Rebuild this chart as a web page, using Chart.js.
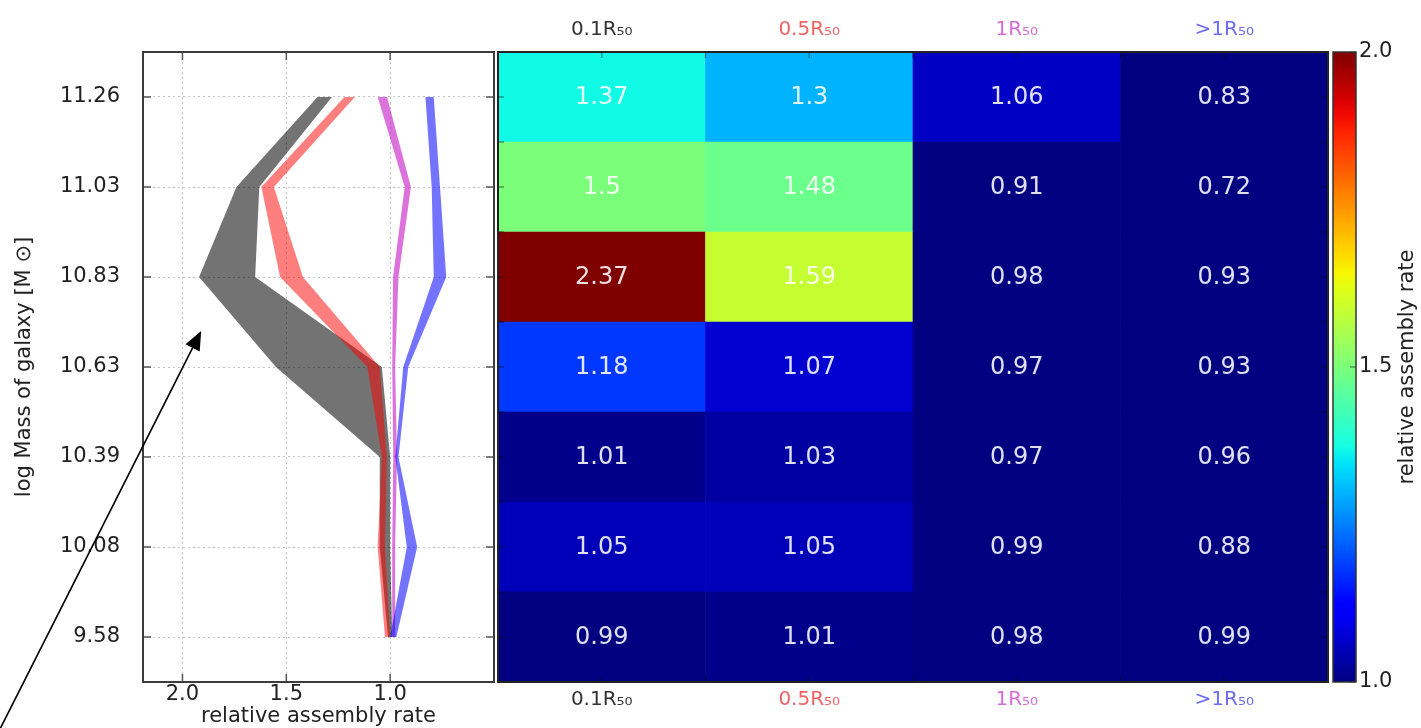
<!DOCTYPE html>
<html>
<head>
<meta charset="utf-8">
<script src="https://cdn.jsdelivr.net/npm/chart.js@4.4.1/dist/chart.umd.min.js"></script>
<style>
  html, body { margin: 0; padding: 0; background: #fff; }
  body { width: 1421px; height: 728px; position: relative; overflow: hidden; }
  .panel { position: absolute; top: 0; height: 728px; }
  #bandsBox { left: 0; width: 497px; }
  #heatBox { left: 494px; width: 838px; }
  #barBox { left: 1328px; width: 93px; }
</style>
</head>
<body>
<div class="panel" id="bandsBox"><canvas id="bands"></canvas></div>
<div class="panel" id="heatBox"><canvas id="heat"></canvas></div>
<div class="panel" id="barBox"><canvas id="cbar"></canvas></div>
<script>
// mass bins, bottom to top
const massLabels = ['9.58', '10.08', '10.39', '10.63', '10.83', '11.03', '11.26'];
const columnLabels = ['0.1R\u2085\u2080', '0.5R\u2085\u2080', '1R\u2085\u2080', '>1R\u2085\u2080'];

// heatmap values per column, bottom to top
const rate01 = [0.99, 1.05, 1.01, 1.18, 2.37, 1.5, 1.37];
const rate05 = [1.01, 1.05, 1.03, 1.07, 1.59, 1.48, 1.3];
const rate1 = [0.98, 0.99, 0.97, 0.97, 0.98, 0.91, 1.06];
const rateGt1 = [0.99, 0.88, 0.96, 0.93, 0.93, 0.72, 0.83];

// band edges for the left panel, bottom to top
const band01Low = [0.99, 1.00, 1.00, 1.04, 1.65, 1.63, 1.28];
const band01High = [1.01, 1.05, 1.05, 1.55, 1.92, 1.74, 1.35];
const band05Low = [1.00, 1.025, 1.016, 1.05, 1.42, 1.56, 1.17];
const band05High = [1.025, 1.06, 1.04, 1.11, 1.53, 1.62, 1.22];
const band1Low = [0.976, 0.976, 0.967, 0.976, 0.96, 0.90, 1.015];
const band1High = [0.99, 0.99, 0.985, 0.99, 0.986, 0.93, 1.06];
const bandGt1Low = [0.97, 0.87, 0.96, 0.913, 0.73, 0.76, 0.79];
const bandGt1High = [1.0, 0.92, 0.975, 0.937, 0.79, 0.80, 0.83];

const rateTicks = [1.0, 1.5, 2.0];
const cbMin = 1.0, cbMax = 2.0;

const FONT = "'DejaVu Sans', sans-serif";
const colColors = ['#333333', '#f06464', '#d46ed6', '#6c6cf0'];

// matplotlib jet
function jet(v) {
  const t = Math.min(1, Math.max(0, (v - cbMin) / (cbMax - cbMin)));
  const seg = pts => {
    for (let i = 1; i < pts.length; i++) {
      if (t <= pts[i][0]) {
        const [x0, y0] = pts[i - 1], [x1, y1] = pts[i];
        return y0 + (y1 - y0) * (t - x0) / (x1 - x0);
      }
    }
    return pts[pts.length - 1][1];
  };
  const r = seg([[0, 0], [0.35, 0], [0.66, 1], [0.89, 1], [1, 0.5]]);
  const g = seg([[0, 0], [0.125, 0], [0.375, 1], [0.64, 1], [0.91, 0], [1, 0]]);
  const b = seg([[0, 0.5], [0.11, 1], [0.34, 1], [0.65, 0], [1, 0]]);
  return `rgb(${Math.round(r * 255)},${Math.round(g * 255)},${Math.round(b * 255)})`;
}

Chart.defaults.font.family = FONT;
Chart.defaults.animation = false;
Chart.defaults.plugins.legend.display = false;
Chart.defaults.plugins.tooltip.enabled = false;

// ---------- left panel: bands ----------
const bands = [
  { low: bandGt1Low, high: bandGt1High, color: 'rgba(0,0,255,0.55)' },
  { low: band1Low, high: band1High, color: 'rgba(191,0,191,0.55)' },
  { low: band05Low, high: band05High, color: 'rgba(255,0,0,0.5)' },
  { low: band01Low, high: band01High, color: 'rgba(0,0,0,0.55)' },
];
const bandSets = [];
bands.forEach(b => {
  bandSets.push({ data: b.low.map((v, i) => ({ x: v, y: i })), borderWidth: 0, pointRadius: 0, fill: false });
  bandSets.push({ data: b.high.map((v, i) => ({ x: v, y: i })), borderWidth: 0, pointRadius: 0,
    fill: '-1', backgroundColor: b.color });
});

const arrowTip = { x: 1.91, y: 3.4 };
const arrowTail = { x: 2.88, y: -1.03 };

const frameAndArrow = {
  id: 'frameAndArrow',
  afterDraw(chart) {
    const { ctx, chartArea: a, scales: { x, y } } = chart;
    ctx.save();
    // inner ticks
    ctx.strokeStyle = '#555';
    ctx.lineWidth = 1.5;
    ctx.beginPath();
    rateTicks.forEach(v => {
      const px = x.getPixelForValue(v);
      ctx.moveTo(px, a.top); ctx.lineTo(px, a.top + 8);
      ctx.moveTo(px, a.bottom); ctx.lineTo(px, a.bottom - 8);
    });
    massLabels.forEach((_, i) => {
      const py = y.getPixelForValue(i);
      ctx.moveTo(a.left, py); ctx.lineTo(a.left + 8, py);
      ctx.moveTo(a.right, py); ctx.lineTo(a.right - 8, py);
    });
    ctx.stroke();
    ctx.strokeStyle = '#3c3c3c';
    ctx.lineWidth = 2;
    ctx.strokeRect(a.left, a.top, a.right - a.left, a.bottom - a.top);
    // arrow
    const tx = x.getPixelForValue(arrowTip.x), ty = y.getPixelForValue(arrowTip.y);
    const sx = x.getPixelForValue(arrowTail.x), sy = y.getPixelForValue(arrowTail.y);
    const ang = Math.atan2(ty - sy, tx - sx);
    const hl = 19, hw = 8;
    const bx = tx - hl * Math.cos(ang), by = ty - hl * Math.sin(ang);
    ctx.strokeStyle = '#000';
    ctx.lineWidth = 1.6;
    ctx.beginPath();
    ctx.moveTo(sx, sy); ctx.lineTo(bx, by);
    ctx.stroke();
    ctx.fillStyle = '#000';
    ctx.beginPath();
    ctx.moveTo(tx, ty);
    ctx.lineTo(bx + hw * Math.sin(ang), by - hw * Math.cos(ang));
    ctx.lineTo(bx - hw * Math.sin(ang), by + hw * Math.cos(ang));
    ctx.closePath();
    ctx.fill();
    ctx.restore();
  }
};

new Chart(document.getElementById('bands'), {
  type: 'line',
  data: { datasets: bandSets },
  options: {
    responsive: true,
    maintainAspectRatio: false,
    indexAxis: 'y',
    layout: { padding: { top: 52, right: 3 } },
    scales: {
      x: {
        type: 'linear', reverse: true, min: 0.5, max: 2.19,
        afterBuildTicks: s => { s.ticks = rateTicks.map(v => ({ value: v })); },
        afterFit: s => { s.height = 46; },
        ticks: { callback: v => v.toFixed(1), color: '#222', font: { size: 21 }, padding: 0, maxRotation: 0 },
        grid: { color: '#c4c4c4', drawTicks: false },
        border: { display: false, dash: [2, 3] },
        title: { display: true, text: 'relative assembly rate', color: '#222', font: { size: 21, lineHeight: 1.1 }, padding: { top: 0, bottom: 0 } }
      },
      y: {
        type: 'linear', min: -0.5, max: 6.5,
        afterBuildTicks: s => { s.ticks = massLabels.map((_, i) => ({ value: i })); },
        afterFit: s => { s.width = 143; },
        ticks: { callback: v => massLabels[v], color: '#222', font: { size: 21 }, padding: 23 },
        grid: { color: '#c4c4c4', drawTicks: false },
        border: { display: false, dash: [2, 3] },
        title: { display: true, text: 'log Mass of galaxy [M \u2299]', color: '#222', font: { size: 21, lineHeight: 1.1 }, padding: { top: 13 } }
      }
    }
  },
  plugins: [frameAndArrow]
});

// ---------- heatmap ----------
const columns = [rate01, rate05, rate1, rateGt1];
const heatSets = massLabels.map((_, row) => ({
  data: columns.map(() => [row - 0.5, row + 0.5]),
  backgroundColor: columns.map(col => jet(col[row])),
  borderWidth: 0,
  grouped: false,
  barPercentage: 1,
  categoryPercentage: 1
}));

const heatDecor = {
  id: 'heatDecor',
  afterDatasetsDraw(chart) {
    const { ctx, chartArea: a, scales: { y } } = chart;
    ctx.save();
    ctx.font = `24px ${FONT}`;
    ctx.fillStyle = 'rgba(255,255,255,0.88)';
    ctx.textAlign = 'center';
    ctx.textBaseline = 'middle';
    chart.data.datasets.forEach((ds, row) => {
      chart.getDatasetMeta(row).data.forEach((el, c) => {
        ctx.fillText(String(columns[c][row]), el.x, (el.y + el.base) / 2 + 1);
      });
    });
    // inner ticks every half cell
    ctx.strokeStyle = 'rgba(0,0,0,0.6)';
    ctx.lineWidth = 1;
    ctx.beginPath();
    const cw = (a.right - a.left) / columns.length;
    for (let k = 1; k < columns.length * 2; k++) {
      const px = a.left + k * cw / 2;
      ctx.moveTo(px, a.top); ctx.lineTo(px, a.top + 6);
      ctx.moveTo(px, a.bottom); ctx.lineTo(px, a.bottom - 6);
    }
    for (let k = 1; k < massLabels.length * 2; k++) {
      const py = y.getPixelForValue(-0.5 + k / 2);
      ctx.moveTo(a.left, py); ctx.lineTo(a.left + 6, py);
      ctx.moveTo(a.right, py); ctx.lineTo(a.right - 6, py);
    }
    ctx.stroke();
    ctx.strokeStyle = '#222';
    ctx.lineWidth = 2;
    ctx.strokeRect(a.left, a.top, a.right - a.left, a.bottom - a.top);
    ctx.restore();
  }
};

new Chart(document.getElementById('heat'), {
  type: 'bar',
  data: { labels: columnLabels, datasets: heatSets },
  options: {
    responsive: true,
    maintainAspectRatio: false,
    layout: { padding: { left: 4, right: 4 } },
    scales: {
      x: {
        position: 'bottom', offset: true,
        afterFit: s => { s.height = 46; },
        ticks: { color: c => colColors[c.index], font: { size: 20 }, padding: 6 },
        grid: { display: false, drawTicks: false },
        border: { display: false }
      },
      x2: {
        type: 'category', position: 'top', offset: true,
        afterFit: s => { s.height = 52; },
        ticks: { color: c => colColors[c.index], font: { size: 20 }, padding: 10 },
        grid: { display: false, drawTicks: false },
        border: { display: false }
      },
      y: { type: 'linear', min: -0.5, max: 6.5, display: false }
    }
  },
  plugins: [heatDecor]
});

// ---------- colour bar ----------
const cbarDecor = {
  id: 'cbarDecor',
  afterDraw(chart) {
    const { ctx, chartArea: a, scales: { y } } = chart;
    ctx.save();
    ctx.strokeStyle = 'rgba(0,0,0,0.6)';
    ctx.lineWidth = 1;
    ctx.beginPath();
    rateTicks.forEach(v => {
      const py = y.getPixelForValue(v);
      ctx.moveTo(a.right, py); ctx.lineTo(a.right - 6, py);
    });
    ctx.stroke();
    ctx.strokeStyle = '#333';
    ctx.lineWidth = 1.5;
    ctx.strokeRect(a.left, a.top, a.right - a.left, a.bottom - a.top);
    ctx.translate(80, (a.top + a.bottom) / 2);
    ctx.rotate(-Math.PI / 2);
    ctx.font = `21px ${FONT}`;
    ctx.fillStyle = '#222';
    ctx.textAlign = 'center';
    ctx.textBaseline = 'middle';
    ctx.fillText('relative assembly rate', 0, 0);
    ctx.restore();
  }
};

new Chart(document.getElementById('cbar'), {
  type: 'bar',
  data: {
    labels: ['rate'],
    datasets: [{
      data: [[cbMin, cbMax]],
      borderWidth: 0,
      barPercentage: 1,
      categoryPercentage: 1,
      backgroundColor: c => {
        const a = c.chart.chartArea;
        if (!a) return jet((cbMin + cbMax) / 2);
        const g = c.chart.ctx.createLinearGradient(0, a.bottom, 0, a.top);
        for (let i = 0; i <= 40; i++) g.addColorStop(i / 40, jet(cbMin + (cbMax - cbMin) * i / 40));
        return g;
      }
    }]
  },
  options: {
    responsive: true,
    maintainAspectRatio: false,
    layout: { padding: { left: 5, top: 52, bottom: 46 } },
    scales: {
      x: { display: false },
      y: {
        position: 'right', min: cbMin, max: cbMax,
        afterBuildTicks: s => { s.ticks = rateTicks.map(v => ({ value: v })); },
        afterFit: s => { s.width = 65; },
        ticks: { callback: v => v.toFixed(1), color: '#222', font: { size: 21 }, padding: 3 },
        grid: { display: false, drawTicks: false },
        border: { display: false }
      }
    }
  },
  plugins: [cbarDecor]
});
</script>
</body>
</html>
